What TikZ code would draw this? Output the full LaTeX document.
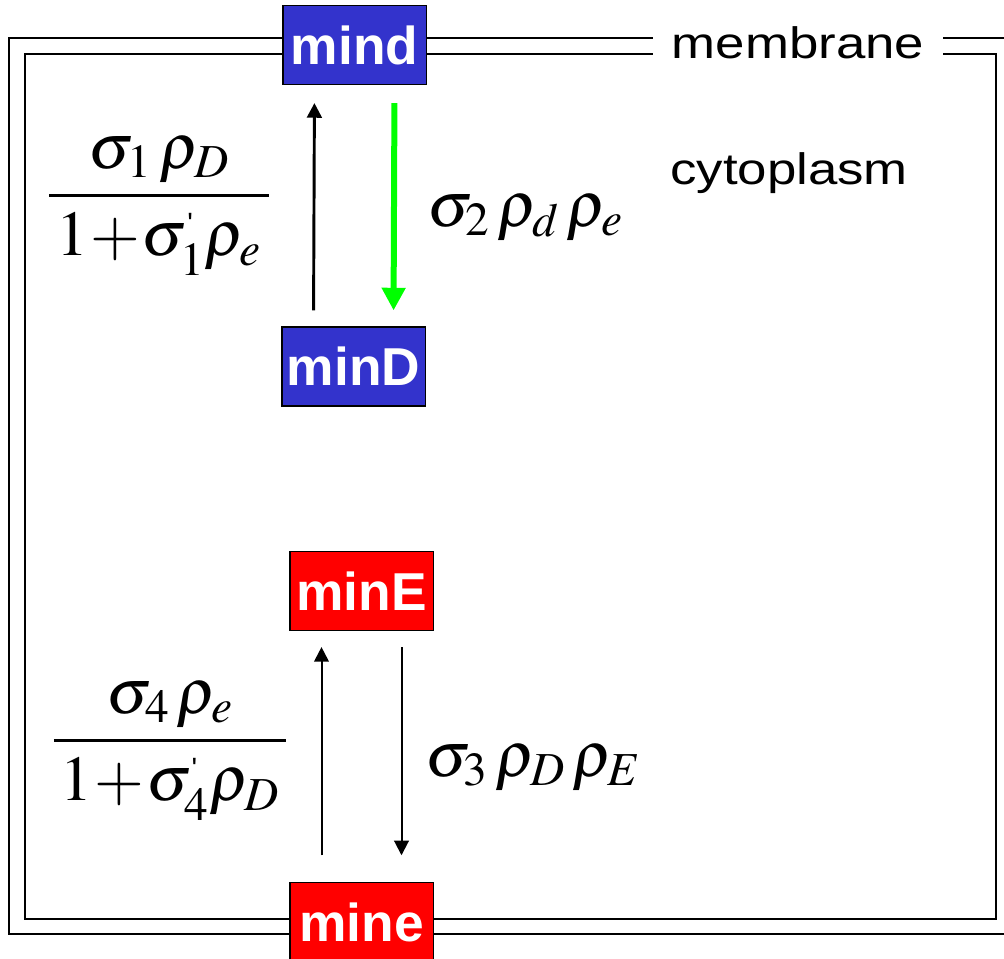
\documentclass[tikz,border=0pt]{standalone}
\usepackage{mathptmx}
\usepackage[no-math]{fontspec}
\newfontfamily\labelfont[FakeStretch=1.2]{Liberation Sans}
\newfontfamily\boxfont{Liberation Sans}
\usetikzlibrary{arrows.meta}
\definecolor{minDC}{HTML}{3333CC}
\definecolor{minEC}{HTML}{FF0000}
\definecolor{hydroC}{HTML}{00FF00}
\newcommand{\tick}{^{\mbox{\boxfont\fontsize{22}{22}\selectfont\char"27}}}

\begin{document}
\begin{tikzpicture}[x=0.75pt,y=-0.75pt,
  protein/.style={draw=black,line width=1.1pt,minimum width=107.6pt,minimum height=59pt,
    inner sep=0pt,text=white,font=\boxfont\bfseries\fontsize{40}{40}\selectfont},
  rate/.style={inner sep=0pt,font=\fontsize{48}{54}\selectfont},
  region/.style={inner sep=0pt,font=\labelfont\fontsize{33}{33}\selectfont},
  wall/.style={line width=1.5pt},
  thinflow/.style={line width=1.5pt,-{Triangle[length=11pt,width=11pt]}},
  thickflow/.style={line width=2.2pt,-{Triangle[length=11pt,width=11pt]}}]
  \useasboundingbox (0,0) rectangle (1004,958);

  % membrane: double wall
  \draw[wall] (1012,38) -- (9,38) -- (9,934) -- (1012,934);
  \draw[wall] (25,54) rectangle (996,919);
  \node[region,fill=white,inner xsep=14pt,anchor=base] (membrane) at (798,58) {membrane};
  \node[region,anchor=base west] (cytoplasm) at (670,184) {cytoplasm};

  % MinD cycle
  \node[protein,fill=minDC] (mind) at (354.5,45) {mind};
  \node[protein,fill=minDC] (minD) at (353.5,366.5) {minD};
  \draw[thickflow,shorten <=12pt,shorten >=13.5pt] ([xshift=-30pt]minD.north) -- ([xshift=-30pt]mind.south);
  \draw[hydroC,line width=4.5pt,-{Triangle[length=17pt,width=17pt]},shorten <=13.5pt,shorten >=12pt]
    ([xshift=30pt]mind.south) -- ([xshift=30pt]minD.north);
  \node[rate] (rate1) at (159,206) {$\displaystyle\frac{\sigma_1\,\rho_D}{\,1\!+\!\sigma_1\tick\rho_e\,}$};
  \node[rate,anchor=base west] (rate2) at (427,226) {$\sigma_2\,\rho_d\,\rho_e$};

  % MinE cycle
  \node[protein,fill=minEC] (minE) at (361.5,591) {minE};
  \node[protein,fill=minEC] (mine) at (361.5,922) {mine};
  \draw[thinflow,shorten <=20pt,shorten >=12pt] ([xshift=-30pt]mine.north) -- ([xshift=-30pt]minE.south);
  \draw[thinflow,shorten <=12pt,shorten >=20pt] ([xshift=30pt]minE.south) -- ([xshift=30pt]mine.north);
  \node[rate] (rate4) at (170,751) {$\displaystyle\frac{\sigma_4\,\rho_e}{\,1\!+\!\sigma_4\tick\rho_D\,}$};
  \node[rate,anchor=base west] (rate3) at (425,776) {$\sigma_3\,\rho_D\,\rho_E$};
\end{tikzpicture}
\end{document}
